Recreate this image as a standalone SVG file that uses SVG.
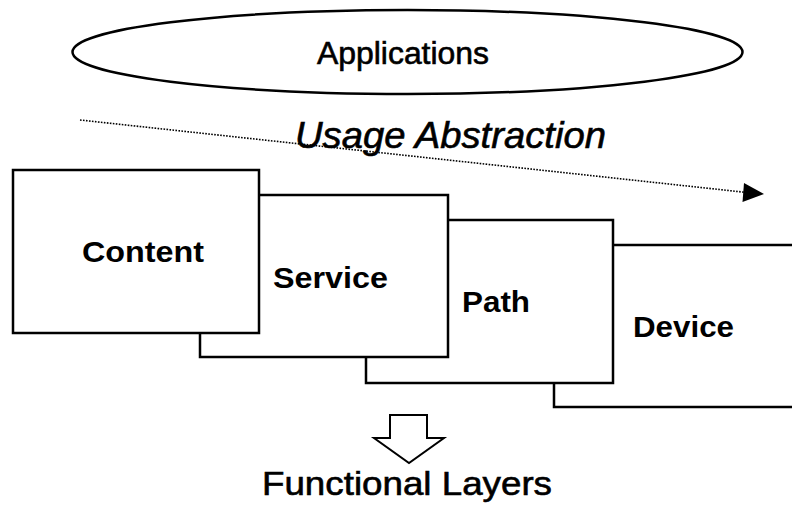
<svg xmlns="http://www.w3.org/2000/svg" width="792" height="506" viewBox="0 0 792 506">
  <style>
    .layer { fill: #ffffff; stroke: #000000; stroke-width: 2.5; }
    .label { font-family: "Liberation Sans", Arial, Helvetica, sans-serif; fill: #000000; }
    .plain { stroke: #000000; stroke-width: 0.6; }
    .bold { font-weight: bold; font-size: 30px; }
  </style>
  <rect width="792" height="506" fill="#ffffff"/>

  <!-- applications ellipse -->
  <g id="applications">
    <ellipse cx="407.5" cy="52" rx="335" ry="42" fill="#ffffff" stroke="#000000" stroke-width="2.5"/>
    <text class="label plain" x="317" y="64" font-size="31" textLength="172" lengthAdjust="spacingAndGlyphs">Applications</text>
  </g>

  <!-- usage abstraction direction -->
  <g id="connectors">
    <line x1="80" y1="120" x2="745" y2="192.3" stroke="#000000" stroke-width="1.6" stroke-dasharray="1.6 1.4"/>
    <polygon points="764,194 744,183 742.5,202" fill="#000000"/>
  </g>
  <text id="usage" class="label plain" x="295" y="148" font-size="37" font-style="italic" textLength="311" lengthAdjust="spacingAndGlyphs">Usage Abstraction</text>

  <!-- functional layers, back to front -->
  <g id="device">
    <rect class="layer" x="554" y="245" width="260" height="162"/>
    <text class="label bold" x="633" y="337" textLength="101" lengthAdjust="spacingAndGlyphs">Device</text>
  </g>
  <g id="path">
    <rect class="layer" x="366" y="220" width="247" height="163"/>
    <text class="label bold" x="462" y="312" textLength="68" lengthAdjust="spacingAndGlyphs">Path</text>
  </g>
  <g id="service">
    <rect class="layer" x="200" y="195" width="248" height="162"/>
    <text class="label bold" x="273" y="288" textLength="115" lengthAdjust="spacingAndGlyphs">Service</text>
  </g>
  <g id="content">
    <rect class="layer" x="13" y="170" width="246" height="163"/>
    <text class="label bold" x="82" y="262" textLength="122" lengthAdjust="spacingAndGlyphs">Content</text>
  </g>

  <!-- hollow down arrow and caption -->
  <g id="functional-layers">
    <polygon points="390,415 427,415 427,438 444,438 409,463 374,438 390,438" fill="#ffffff" stroke="#000000" stroke-width="2"/>
    <text class="label plain" x="262" y="495" font-size="33" textLength="290" lengthAdjust="spacingAndGlyphs">Functional Layers</text>
  </g>
</svg>
